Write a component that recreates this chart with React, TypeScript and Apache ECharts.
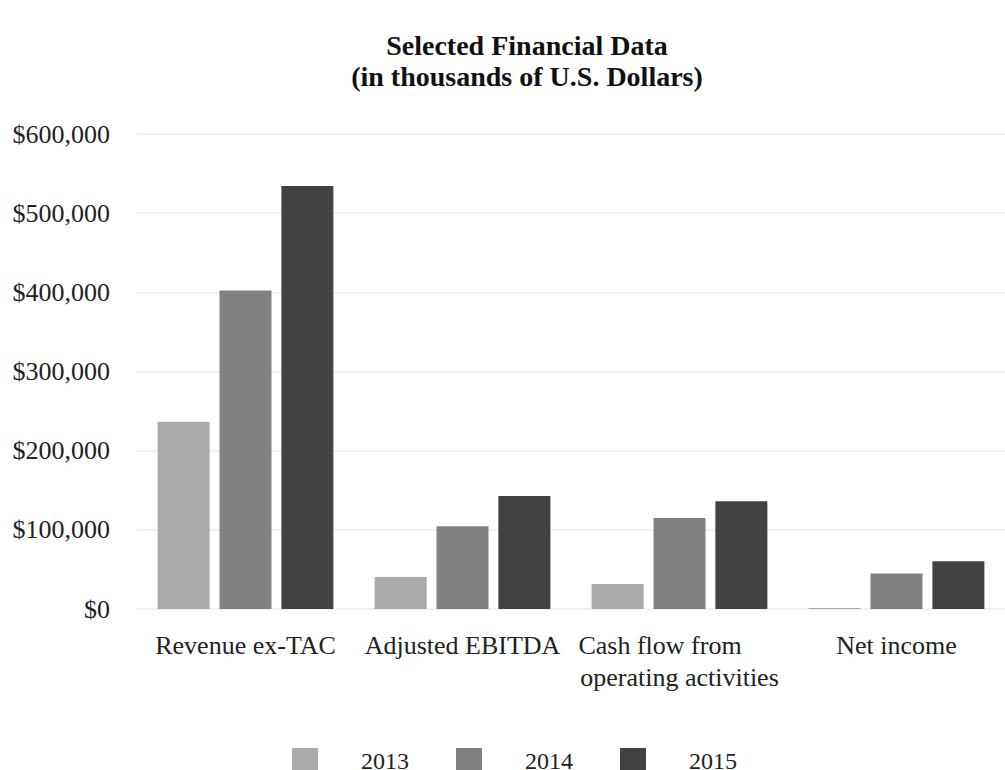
import React, { useEffect, useRef } from "react";
import * as echarts from "echarts";

const NBSP = "\u00a0";
const categories = [
  "Revenue ex-TAC",
  "Adjusted EBITDA",
  "Cash flow from" + NBSP.repeat(6) + "\noperating activities",
  "Net income",
];
const years = ["2013", "2014", "2015"];
const values2013 = [236500, 40400, 31600, 1300];
const values2014 = [402400, 104600, 115000, 44800];
const values2015 = [534300, 142800, 136200, 60200];
const colors = ["#aaaaaa", "#818181", "#424242"];
const yTicks = { min: 0, max: 600000, interval: 100000 };

const FONT = "'Liberation Serif', 'Times New Roman', serif";

export default function App() {
  const ref = useRef<HTMLDivElement>(null);
  useEffect(() => {
    if (!ref.current) return;
    const chart = echarts.init(ref.current, undefined, { renderer: "svg" });
    const seriesData = [values2013, values2014, values2015];
    chart.setOption({
      animation: false,
      backgroundColor: "#ffffff",
      title: {
        text: "Selected Financial Data\n(in thousands of U.S. Dollars)",
        left: 522,
        top: 25,
        textAlign: "center",
        textStyle: {
          fontFamily: FONT,
          fontWeight: "bold",
          fontSize: 28,
          lineHeight: 31,
          color: "#111111",
        },
      },
      legend: {
        data: years,
        left: 287,
        top: 743,
        icon: "rect",
        itemWidth: 26,
        itemHeight: 25,
        itemGap: 47,
        textStyle: {
          fontFamily: FONT,
          fontSize: 24,
          color: "#222222",
          padding: [0, 0, 0, 38],
        },
      },
      grid: {
        left: 137,
        top: 134,
        width: 881,
        height: 475,
        containLabel: false,
      },
      xAxis: {
        type: "category",
        data: categories,
        axisLine: { show: false },
        axisTick: { show: false },
        axisLabel: {
          fontFamily: FONT,
          fontSize: 26,
          color: "#222222",
          margin: 20,
          lineHeight: 32,
          interval: 0,
        },
      },
      yAxis: {
        type: "value",
        min: yTicks.min,
        max: yTicks.max,
        interval: yTicks.interval,
        axisLine: { show: false },
        axisTick: { show: false },
        splitLine: { lineStyle: { color: "#ececec", width: 1.5 } },
        axisLabel: {
          fontFamily: FONT,
          fontSize: 26,
          color: "#222222",
          margin: 27,
          formatter: (v: number) => "$" + v.toLocaleString("en-US"),
        },
      },
      series: years.map((y, i) => ({
        name: y,
        type: "bar",
        data: seriesData[i],
        barWidth: 52,
        barGap: "19%",
        itemStyle: { color: colors[i] },
      })),
    });
    return () => chart.dispose();
  }, []);
  return (
    <div
      ref={ref}
      style={{ position: "fixed", left: 0, top: 0, width: 1005, height: 770 }}
    />
  );
}
